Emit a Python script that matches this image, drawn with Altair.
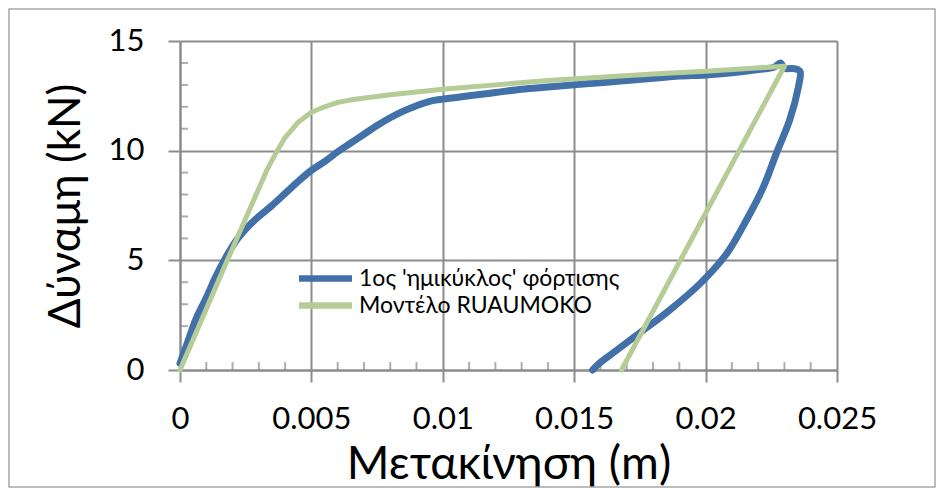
import altair as alt
import pandas as pd

# ---- data ----
series_names = ["1ος 'ημικύκλος' φόρτισης", "Μοντέλο RUAUMOKO"]
series_colors = ["#4270a8", "#b4cc95"]

# experimental loading / unloading curve (1st half-cycle)
blue_x = [0.0, 0.0003, 0.0006, 0.001, 0.0014, 0.0018, 0.0022, 0.0026, 0.003, 0.0035, 0.004,
          0.0045, 0.005, 0.0055, 0.006, 0.0065, 0.007, 0.0075, 0.008, 0.0085, 0.009,
          0.0095, 0.010, 0.011, 0.012, 0.013, 0.014, 0.015, 0.016, 0.017, 0.018,
          0.019, 0.020, 0.021, 0.022, 0.0226, 0.02285, 0.0230, 0.0233, 0.0235, 0.0236,
          0.02353, 0.0232, 0.0227, 0.0222, 0.02156, 0.0208, 0.0198, 0.01865, 0.0175,
          0.0165, 0.0159, 0.0157]
blue_y = [0.3, 1.3, 2.3, 3.3, 4.35, 5.25, 6.0, 6.55, 7.0, 7.5, 8.05,
          8.6, 9.1, 9.5, 9.95, 10.35, 10.75, 11.15, 11.5, 11.8, 12.05,
          12.25, 12.35, 12.5, 12.65, 12.8, 12.9, 13.0, 13.1, 13.2, 13.3,
          13.4, 13.45, 13.55, 13.7, 13.8, 14.0, 13.75, 13.75, 13.7, 13.6,
          12.9, 11.4, 9.9, 8.35, 6.85, 5.3, 3.95, 2.75, 1.7,
          0.8, 0.25, 0.0]

# RUAUMOKO model
green_x = [0.0, 0.0018, 0.0033, 0.0037, 0.0040, 0.0045, 0.0050, 0.0055, 0.0060, 0.0066,
           0.008, 0.010, 0.012, 0.014, 0.016, 0.018, 0.020, 0.0230, 0.0168]
green_y = [0.0, 5.0, 9.1, 10.0, 10.6, 11.3, 11.75, 12.0, 12.2, 12.33,
           12.55, 12.8, 13.0, 13.2, 13.35, 13.5, 13.62, 13.85, 0.0]

x_ticks = [0, 0.005, 0.01, 0.015, 0.02, 0.025]
y_ticks = [0, 5, 10, 15]
x_minor = [0.001, 0.002, 0.003, 0.004, 0.006, 0.007, 0.008, 0.009,
           0.011, 0.012, 0.013, 0.014, 0.016, 0.017, 0.018, 0.019,
           0.021, 0.022, 0.023, 0.024]
y_minor = [1, 2, 3, 4, 6, 7, 8, 9, 11, 12, 13, 14]

x_title = "Μετακίνηση (m)"
y_title = "Δύναμη (kN)"

# ---- tables ----
blue_df = pd.DataFrame({"x": blue_x, "y": blue_y, "series": series_names[0],
                        "i": list(range(len(blue_x)))})
green_df = pd.DataFrame({"x": green_x, "y": green_y, "series": series_names[1],
                         "i": list(range(len(green_x)))})
xminor_df = pd.DataFrame({"x": x_minor, "y": [0] * len(x_minor)})
yminor_df = pd.DataFrame({"x": [0] * len(y_minor), "y": y_minor})

GRID = "#8c8c8c"
FONT = "Lato"


def X():
    return alt.X("x:Q", scale=alt.Scale(domain=[0, 0.025], nice=False, zero=False),
                 axis=alt.Axis(values=x_ticks, format="~g", title=x_title,
                               labelPadding=22, titlePadding=8, labelFlush=False,
                               titleFontSize=46))


def Y():
    return alt.Y("y:Q", scale=alt.Scale(domain=[0, 15], nice=False, zero=False),
                 axis=alt.Axis(values=y_ticks, title=y_title, labelPadding=24,
                               titlePadding=20, labelFlush=False, titleFontSize=44))


color = alt.Color("series:N",
                  scale=alt.Scale(domain=series_names, range=series_colors),
                  legend=alt.Legend(title=None, orient="none", legendX=134, legendY=226,
                                    symbolType="M-5.3,0H5.3", symbolSize=100,
                                    symbolStrokeWidth=6.5, labelOffset=22,
                                    labelFontSize=23, labelFont=FONT, labelColor="#000000",
                                    labelLimit=500, rowPadding=0, padding=0))

minor_x_layer = alt.Chart(xminor_df).mark_tick(
    orient="vertical", size=8, thickness=2, yOffset=-4, color=GRID
).encode(x=X(), y=Y())

minor_y_layer = alt.Chart(yminor_df).mark_tick(
    orient="horizontal", size=8, thickness=2, xOffset=4, color=GRID
).encode(x=X(), y=Y())

blue_layer = alt.Chart(blue_df).mark_line(
    strokeWidth=7, strokeCap="round", strokeJoin="round", interpolate="catmull-rom"
).encode(x=X(), y=Y(), color=color, order="i:Q")

green_layer = alt.Chart(green_df).mark_line(
    strokeWidth=5, strokeCap="round", strokeJoin="round"
).encode(x=X(), y=Y(), color=color, order="i:Q")

frame = alt.Chart(alt.Data(values=[{"f": 1}])).mark_rect(
    filled=False, stroke="#a6a6a6", strokeWidth=1.5
).encode(x=alt.value(-171), x2=alt.value(755), y=alt.value(-32), y2=alt.value(446))

chart = alt.layer(
    frame, minor_x_layer, minor_y_layer, blue_layer, green_layer
).properties(
    width=657, height=329,
    autosize="none",
    padding={"left": 172, "top": 33, "right": 99, "bottom": 118},
    background="white",
).configure_view(
    stroke="transparent"
).configure_axis(
    grid=True, gridColor=GRID, gridWidth=2,
    domainColor=GRID, domainWidth=2,
    tickColor=GRID, tickWidth=2, tickSize=12,
    labelFont=FONT, labelFontSize=31, labelColor="#000000",
    titleFont=FONT, titleFontWeight="normal", titleColor="#000000",
)

chart.save("out.html", embed_options={"renderer": "svg", "actions": False})
